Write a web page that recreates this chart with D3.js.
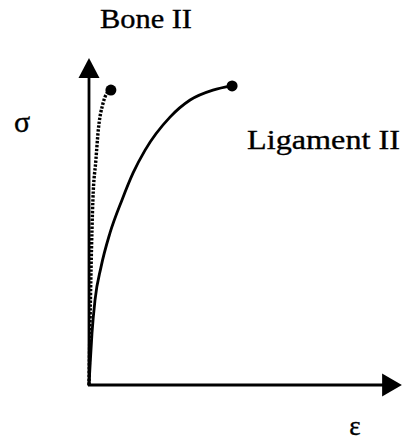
<!DOCTYPE html>
<html><head><meta charset="utf-8">
<script src="https://cdn.jsdelivr.net/npm/d3@7"></script>
<style>html,body{margin:0;padding:0;background:#fff;}svg{display:block;}</style>
</head><body>
<svg id="chart" width="402" height="445"></svg>
<script>
// Data (arbitrary units)
const ligamentStrain = [0, 0.033, 0.1, 0.2, 0.4, 0.7, 1.1, 1.47, 1.87, 2.7, 3.37, 4.13, 4.77];
const ligamentStress = [0, 0.6, 1.73, 2.83, 3.93, 5.07, 6.17, 7.07, 7.83, 8.93, 9.5, 9.83, 9.97];
const boneStrain = [0, 0.03, 0.07, 0.13, 0.23, 0.3, 0.47, 0.6, 0.73];
const boneStress = [0, 1.83, 3.93, 6.17, 7.5, 8.4, 9.4, 9.73, 9.83];
const labels = ["Bone II", "Ligament II"];
const axisLabels = ["σ", "ε"];

const svg = d3.select("#chart");
const x = d3.scaleLinear().domain([0, 10]).range([89, 389]);
const y = d3.scaleLinear().domain([0, 10]).range([385, 85]);

const serif = "'Liberation Serif','Times New Roman',serif";

// Axes
svg.append("line").attr("x1", x(0)).attr("x2", x(0)).attr("y1", y(0) + 1).attr("y2", y(10.6))
  .attr("stroke", "#000").attr("stroke-width", 2.8);
svg.append("path")
  .attr("d", `M${x(0)},${y(10.9)} L${x(0) - 10.5},${y(10.23)} L${x(0) + 10.5},${y(10.23)} Z`)
  .attr("fill", "#000");
svg.append("line").attr("x1", x(0) - 1).attr("x2", x(10)).attr("y1", y(0)).attr("y2", y(0))
  .attr("stroke", "#000").attr("stroke-width", 2.8);
svg.append("path")
  .attr("d", `M${x(10.43)},${y(0)} L${x(9.77)},${y(0) - 11.5} L${x(9.77)},${y(0) + 11.5} Z`)
  .attr("fill", "#000");

const lineMono = d3.line().x(d => x(d[0])).y(d => y(d[1])).curve(d3.curveMonotoneX);

const lig = ligamentStrain.map((v, i) => [v, ligamentStress[i]]);
const bone = boneStrain.map((v, i) => [v, boneStress[i]]);

svg.append("path").attr("d", lineMono(lig)).attr("fill", "none")
  .attr("stroke", "#000").attr("stroke-width", 2.8);
svg.append("path").attr("d", lineMono(bone)).attr("fill", "none")
  .attr("stroke", "#000").attr("stroke-width", 3.4).attr("stroke-dasharray", "2.4,1.5");

const endLig = lig[lig.length - 1], endBone = bone[bone.length - 1];
svg.append("circle").attr("cx", x(endLig[0])).attr("cy", y(endLig[1])).attr("r", 5.5).attr("fill", "#000");
svg.append("circle").attr("cx", x(endBone[0])).attr("cy", y(endBone[1])).attr("r", 5.5).attr("fill", "#000");

// Labels
const txt = (t, px, py, size, len, anchor) => {
  const el = svg.append("text").attr("x", px).attr("y", py).attr("font-family", serif)
    .attr("font-size", size).attr("fill", "#000").attr("stroke", "#000").attr("stroke-width", 0.35)
    .attr("text-anchor", anchor || "start").text(t);
  if (len) el.attr("textLength", len).attr("lengthAdjust", "spacingAndGlyphs");
};
txt(labels[0], 100, 28, 27, 92);
txt(labels[1], 247, 149, 28, 153);
txt(axisLabels[0], 22, 132, 30, null, "middle");
txt(axisLabels[1], 355, 435, 27, null, "middle");
</script>
</body></html>
